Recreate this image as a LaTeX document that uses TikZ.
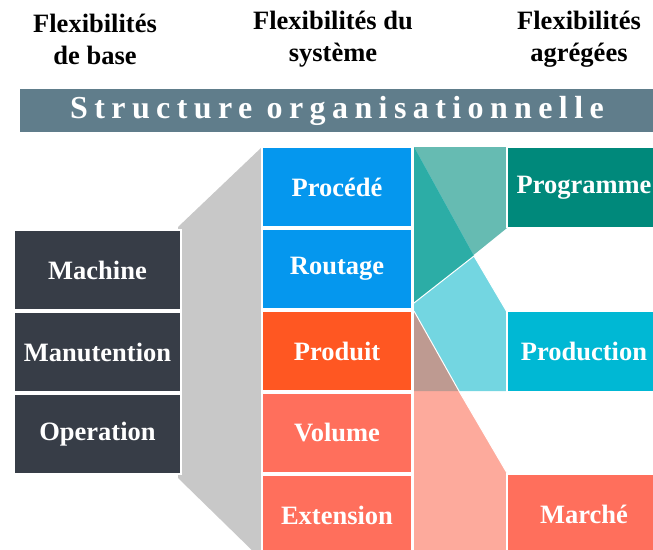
\documentclass[tikz,border=0pt]{standalone}
\usepackage{fontspec}
\setmainfont{Liberation Serif}
\definecolor{darkbox}{HTML}{373D47}
\definecolor{banner}{HTML}{607D8B}
\definecolor{bluebox}{HTML}{0597EE}
\definecolor{orangebox}{HTML}{FF5722}
\definecolor{salmonbox}{HTML}{FF6F5C}
\definecolor{tealbox}{HTML}{00897B}
\definecolor{cyanbox}{HTML}{00B8D4}
\definecolor{grayflow}{HTML}{C8C8C8}
\definecolor{lteal}{HTML}{66BBB2}
\definecolor{dteal}{HTML}{2CADA6}
\definecolor{lcyan}{HTML}{73D6E1}
\definecolor{brownov}{HTML}{BE9A91}
\definecolor{lsalmon}{HTML}{FDAA9C}
\tikzset{
  box/.style={draw=white, line width=1.5pt, text=white, font=\fontsize{26.5}{30}\selectfont\bfseries, inner sep=0pt},
  leftbox/.style={box, fill=darkbox, minimum width=167pt, minimum height=80pt},
  midbox/.style={box, minimum width=150pt, minimum height=80pt},
  rightbox/.style={box, minimum width=154pt, minimum height=80pt},
  header/.style={font=\fontsize{26.5}{32}\selectfont\bfseries, align=center, text=black}
}
\begin{document}
\begin{tikzpicture}[x=1pt,y=-1pt]
\useasboundingbox (0,0) rectangle (653,549);
% headers
\node[header] (h1) at (95,39) {Flexibilités\\de base};
\node[header] (h2) at (333,39) {Flexibilités du\\système};
\node[header] (h3) at (579,39) {Flexibilités\\agrégées};
% banner
\fill[banner] (20,89) rectangle (653,132);
\node[text=white, inner sep=0pt, font=\fontsize{32}{33}\selectfont\bfseries\addfontfeature{LetterSpace=20}] (ban) at (337,110.5) {Structure organisationnelle};
% gray trapezoid
\fill[grayflow] (178,227) -- (262,147) -- (262,560) -- (178,478) -- cycle;
% flow polygons
\fill[lteal] (414,147) -- (507,147) -- (507,228) -- (414,303) -- cycle;
\fill[lcyan] (414,147) -- (474,256) -- (507,312) -- (507,391) -- (414,391) -- cycle;
\fill[dteal] (414,147) -- (474,256) -- (414,303) -- cycle;
\fill[lsalmon] (414,311) -- (459,391) -- (507,473) -- (507,560) -- (414,560) -- cycle;
\fill[brownov] (414,311) -- (459,391) -- (414,391) -- cycle;
\draw[white, line width=1pt] (414,303) -- (474,256) -- (507,312);
\draw[white, line width=1pt] (414,311) -- (459,391) -- (507,473);
% left column
\node[leftbox] (mach) at (97.5,270) {Machine};
\node[leftbox] (manu) at (97.5,352) {Manutention};
\node[leftbox] (oper) at (97.5,434) {Operation};
% middle column
\node[midbox, fill=bluebox] (proc) at (337,187) {Procédé};
\node[midbox, fill=bluebox] (rout) at (337,269) {Routage};
\node[midbox, fill=orangebox] (prod) at (337,351) {Produit};
\node[midbox, fill=salmonbox] (volu) at (337,433) {Volume};
\node[midbox, fill=salmonbox] (exte) at (337,515) {Extension};
% right column
\node[rightbox, fill=tealbox] (prog) at (584,187.5) {Programme};
\node[rightbox, fill=cyanbox] (pron) at (584,351.5) {Production};
\node[rightbox, fill=salmonbox] (marc) at (584,514) {Marché};
\end{tikzpicture}
\end{document}
